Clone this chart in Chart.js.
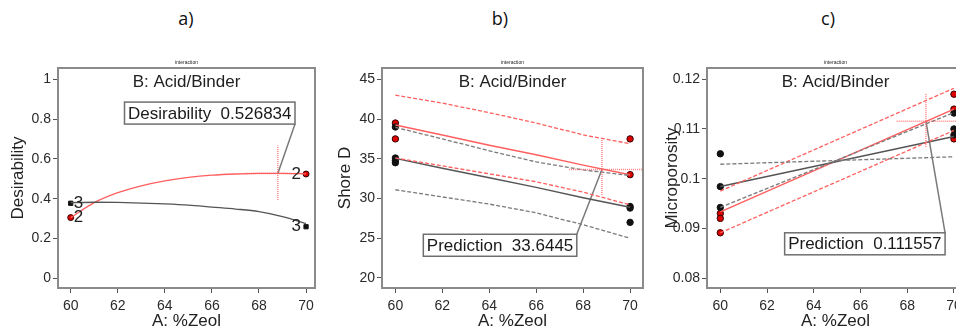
<!DOCTYPE html>
<html>
<head>
<meta charset="utf-8">
<script src="https://cdn.jsdelivr.net/npm/chart.js@4.4.0/dist/chart.umd.min.js"></script>
<style>
    html, body { margin: 0; padding: 0; width: 956px; height: 327px; overflow: hidden; background: #fff; }
    .panel { position: absolute; top: 40px; }
    .tag { position: absolute; top: 6px; font: 18px "Open Sans", sans-serif; color: #111; transform: translateX(-50%); }
</style>
</head>
<body>
<div class="tag" style="left:186px">a)</div>
<div class="tag" style="left:500px">b)</div>
<div class="tag" style="left:828px">c)</div>
<canvas id="chartA" class="panel" style="left:0px" width="330" height="300"></canvas>
<canvas id="chartB" class="panel" style="left:325px" width="335" height="300"></canvas>
<canvas id="chartC" class="panel" style="left:650px" width="330" height="300"></canvas>
<script>
// Shared x axis (A: %Zeol)
const zeolTicks = [60, 62, 64, 66, 68, 70];
const zeolEnds = [60, 70];

// a) Desirability, curves for the two B levels
const desX = [60, 61, 62, 63, 64, 65, 66, 67, 68, 69, 70];
const desHigh = [0.305, 0.38, 0.43, 0.465, 0.49, 0.507, 0.518, 0.524, 0.527, 0.527, 0.525];
const desLow = [0.38, 0.382, 0.381, 0.378, 0.374, 0.368, 0.358, 0.348, 0.335, 0.31, 0.275];
const desPtsHigh = [0.305, 0.524];
const desPtsLow = [0.377, 0.259];
const desTicks = [0, 0.2, 0.4, 0.6, 0.8, 1];
const desPrediction = 0.526834;

// b) Shore D
const shoreX = [60, 62, 64, 66, 68, 70];
const shoreHigh = [39.25, 38.0, 36.7, 35.5, 34.2, 33.0];
const shoreHighUp = [43.0, 42.0, 40.8, 39.5, 38.0, 36.9];
const shoreHighLo = [35.1, 34.1, 33.1, 32.1, 30.8, 29.2];
const shoreLow = [35.05, 33.8, 32.6, 31.4, 30.1, 28.9];
const shoreLowUp = [38.95, 37.5, 36.0, 34.6, 33.6, 32.9];
const shoreLowLo = [31.1, 30.2, 29.3, 28.2, 26.7, 25.0];
const shorePtsHighX = [60, 60, 70, 70];
const shorePtsHighY = [39.5, 37.5, 37.5, 33.0];
const shorePtsLowX = [60, 60, 60, 60, 70, 70, 70];
const shorePtsLowY = [39.0, 35.1, 34.8, 34.5, 29.0, 28.8, 27.0];
const shoreTicks = [20, 25, 30, 35, 40, 45];
const shorePrediction = 33.6445;

// c) Microporosity
const microHigh = [0.0933, 0.114];
const microHighUp = [0.0975, 0.1182];
const microHighLo = [0.0891, 0.1097];
const microLow = [0.0984, 0.1085];
const microLowBandA = [0.1029, 0.1044];
const microLowBandB = [0.0942, 0.1133];
const microPtsHighX = [60, 60, 60, 70, 70, 70];
const microPtsHighY = [0.093, 0.092, 0.0891, 0.117, 0.114, 0.108];
const microPtsLowX = [60, 60, 60, 70, 70, 70];
const microPtsLowY = [0.105, 0.0984, 0.0942, 0.1132, 0.11, 0.1088];
const microTicks = [0.08, 0.09, 0.1, 0.11, 0.12];
const microPrediction = 0.111557;

// Crosshair at the chosen A setting
const zeolSetting = 68.8;

const FONT = '"Liberation Sans", Arial, sans-serif';
const RED = '#ff5f5f';
const DARK = '#555555';
const GREY = '#7a7a7a';
const DOT = 'rgba(255, 90, 90, 0.75)';

function xy(xs, ys) {
    return xs.map((x, i) => ({x: x, y: ys[i]}));
}

function line(xs, ys, color, dash, width, tension) {
    return {
        data: xy(xs, ys),
        showLine: true,
        borderColor: color,
        borderWidth: width || 1.5,
        borderDash: dash || [],
        pointRadius: 0,
        tension: tension || 0,
        cubicInterpolationMode: tension ? 'monotone' : 'default',
    };
}

function dots(xs, ys, fill, border, style, r) {
    return {
        data: xy(xs, ys),
        showLine: false,
        pointStyle: style || 'circle',
        pointRadius: r || 3,
        backgroundColor: fill,
        borderColor: border,
        borderWidth: 1,
    };
}

// Frame, header, annotation box and replicate counts
const panelText = {
    id: 'panelText',
    afterDraw(chart, args, opts) {
        const ctx = chart.ctx;
        const area = chart.chartArea;
        const sx = chart.scales.x;
        const sy = chart.scales.y;
        const cx = (area.left + area.right) / 2;
        ctx.save();

        ctx.fillStyle = '#222';
        ctx.textAlign = 'center';
        ctx.textBaseline = 'middle';
        ctx.font = '5px ' + FONT;
        ctx.fillText('interaction', cx, area.top - 5);
        ctx.font = '17px ' + FONT;
        ctx.fillText(opts.header, cx, area.top + 14);

        // replicate counts
        (opts.counts || []).forEach(c => {
            const px = sx.getPixelForValue(c.x);
            const py = sy.getPixelForValue(c.y);
            ctx.textAlign = c.x < 65 ? 'left' : 'right';
            ctx.fillText(c.text, px + (c.x < 65 ? 3 : -5), py);
        });

        // prediction box
        const b = opts.box;
        ctx.font = '17px ' + FONT;
        const w = ctx.measureText(b.text).width + 7;
        const h = 22;
        const ax = sx.getPixelForValue(b.x);
        const ay = sy.getPixelForValue(b.y);
        const top = b.corner === 'br' ? ay - h : ay;
        ctx.fillStyle = '#fff';
        ctx.fillRect(ax - w, top, w, h);
        ctx.strokeStyle = '#6f6f6f';
        ctx.lineWidth = 1.5;
        ctx.strokeRect(ax - w, top, w, h);
        ctx.fillStyle = '#1a1a1a';
        ctx.textAlign = 'left';
        ctx.fillText(b.text, ax - w + 3.5, top + h / 2 + 1);

        // frame
        ctx.strokeStyle = '#8a8a8a';
        ctx.lineWidth = 2;
        ctx.strokeRect(area.left, area.top, area.right - area.left, area.bottom - area.top);
        ctx.restore();
    },
};

function makeChart(id, cfg) {
    return new Chart(document.getElementById(id), {
        type: 'scatter',
        data: {datasets: cfg.datasets},
        options: {
            responsive: false,
            animation: false,
            layout: {padding: {top: 28, right: cfg.padRight, left: 0, bottom: 0}},
            scales: {
                x: {
                    type: 'linear',
                    min: cfg.xMin,
                    max: cfg.xMax,
                    afterBuildTicks: s => { s.ticks = zeolTicks.map(v => ({value: v})); },
                    afterFit: s => { s.height = 52; },
                    grid: {drawOnChartArea: false, drawTicks: true, tickLength: 5, color: '#555'},
                    border: {display: false},
                    ticks: {
                        font: {family: FONT, size: 14},
                        color: '#2a2a2a',
                        padding: 5,
                        maxRotation: 0,
                        autoSkip: false,
                        callback: v => String(v),
                    },
                    title: {
                        display: true,
                        text: 'A: %Zeol',
                        font: {family: FONT, size: 17},
                        color: '#222',
                        padding: {top: 0, bottom: 8},
                    },
                },
                y: {
                    type: 'linear',
                    min: cfg.yMin,
                    max: cfg.yMax,
                    afterBuildTicks: s => { s.ticks = cfg.yTicks.map(v => ({value: v})); },
                    afterFit: s => { s.width = cfg.yWidth; },
                    grid: {drawOnChartArea: false, drawTicks: true, tickLength: 5, color: '#555'},
                    border: {display: false},
                    ticks: {
                        font: {family: FONT, size: 14},
                        color: '#2a2a2a',
                        padding: 2,
                        autoSkip: false,
                        callback: v => String(v),
                    },
                    title: {
                        display: true,
                        text: cfg.yTitle,
                        font: {family: FONT, size: 17},
                        color: '#222',
                        padding: {top: cfg.yTitlePad},
                    },
                },
            },
            plugins: {
                legend: {display: false},
                tooltip: {enabled: false},
                panelText: cfg.text,
            },
        },
        plugins: [panelText],
    });
}

// a)
makeChart('chartA', {
    xMin: 59.46, xMax: 70.38, yMin: -0.049, yMax: 1.057,
    yTicks: desTicks, yTitle: 'Desirability', yWidth: 58, yTitlePad: 8, padRight: 15,
    datasets: [
        line([67.4, 70], [desPrediction, desPrediction], DOT, [1, 1], 1.5),
        line([zeolSetting, zeolSetting], [0.393, 0.668], DOT, [1, 1], 1.5),
        line(desX, desLow, DARK, [], 1.3, 0.4),
        line(desX, desHigh, RED, [], 1.3, 0.4),
        line([zeolSetting, 69.53], [desPrediction, 0.775], GREY, [], 1.5),
        dots(zeolEnds, desPtsLow, '#111', '#111', 'rect', 3),
        dots(zeolEnds, desPtsHigh, '#dd0000', '#300', 'circle', 3),
    ],
    text: {
        header: 'B: Acid/Binder',
        box: {text: 'Desirability  0.526834', x: 69.53, y: 0.775, corner: 'br'},
        counts: [
            {x: 60, y: desPtsLow[0], text: '3'},
            {x: 60, y: desPtsHigh[0], text: '2'},
            {x: 70, y: desPtsHigh[1], text: '2'},
            {x: 70, y: desPtsLow[1], text: '3'},
        ],
    },
});

// b)
makeChart('chartB', {
    xMin: 59.43, xMax: 70.55, yMin: 18.74, yMax: 46.42,
    yTicks: shoreTicks, yTitle: 'Shore D', yWidth: 57, yTitlePad: 10, padRight: 17,
    datasets: [
        line([67.4, 70.55], [shorePrediction, shorePrediction], DOT, [1, 1], 1.5),
        line([zeolSetting, zeolSetting], [30.44, 37.45], DOT, [1, 1], 1.5),
        line(shoreX, shoreLowUp, GREY, [4, 2], 1.3),
        line(shoreX, shoreLowLo, GREY, [4, 2], 1.3),
        line(shoreX, shoreHighUp, RED, [4, 2], 1.3),
        line(shoreX, shoreHighLo, RED, [4, 2], 1.3),
        line(shoreX, shoreLow, DARK, [], 1.5),
        line(shoreX, shoreHigh, RED, [], 1.5),
        line([zeolSetting, 67.73], [shorePrediction, 25.5], GREY, [], 1.5),
        dots(shorePtsLowX, shorePtsLowY, '#111', '#111', 'circle', 3.2),
        dots(shorePtsHighX, shorePtsHighY, '#dd0000', '#300', 'circle', 3.2),
    ],
    text: {
        header: 'B: Acid/Binder',
        box: {text: 'Prediction  33.6445', x: 67.73, y: 25.5, corner: 'tr'},
    },
});

// c)
makeChart('chartC', {
    xMin: 59.43, xMax: 70.43, yMin: 0.07799, yMax: 0.12227,
    yTicks: microTicks, yTitle: 'Microporosity', yWidth: 57, yTitlePad: 12, padRight: 16,
    datasets: [
        line([67.55, 70.43], [microPrediction, microPrediction], DOT, [1, 1], 1.5),
        line([zeolSetting, zeolSetting], [0.1064, 0.1172], DOT, [1, 1], 1.5),
        line(zeolEnds, microLowBandA, GREY, [4, 2], 1.3),
        line(zeolEnds, microLowBandB, GREY, [4, 2], 1.3),
        line(zeolEnds, microHighUp, RED, [4, 2], 1.3),
        line(zeolEnds, microHighLo, RED, [4, 2], 1.3),
        line(zeolEnds, microLow, DARK, [], 1.5),
        line(zeolEnds, microHigh, RED, [], 1.5),
        line([zeolSetting, 69.62], [microPrediction, 0.0891], GREY, [], 1.5),
        dots(microPtsLowX, microPtsLowY, '#111', '#111', 'circle', 3.2),
        dots(microPtsHighX, microPtsHighY, '#dd0000', '#300', 'circle', 3.2),
    ],
    text: {
        header: 'B: Acid/Binder',
        box: {text: 'Prediction  0.111557', x: 69.62, y: 0.0891, corner: 'tr'},
    },
});
</script>
</body>
</html>
